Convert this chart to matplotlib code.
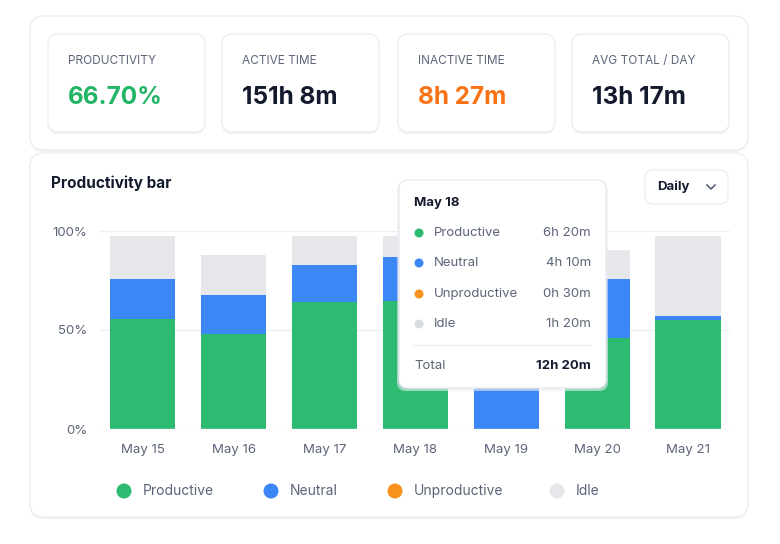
import matplotlib
matplotlib.use('Agg')
import matplotlib.pyplot as plt
from matplotlib.patches import FancyBboxPatch, Circle

plt.rcParams['font.family'] = ['Inter', 'DejaVu Sans']

# summary cards
card_labels = ['PRODUCTIVITY', 'ACTIVE TIME', 'INACTIVE TIME', 'AVG TOTAL / DAY']
card_values = ['66.70%', '151h 8m', '8h 27m', '13h 17m']
card_colors = ['#22b565', '#141a2e', '#f97316', '#141a2e']

# daily shares (% of day)
days = ['May 15', 'May 16', 'May 17', 'May 18', 'May 19', 'May 20', 'May 21']
productive = [55.5, 47.8, 64.1, 64.6, 0.0, 46.0, 55.0]
neutral = [20.1, 19.9, 18.6, 22.4, 62.0, 29.6, 2.2]
unproductive = [0.0, 0.0, 0.0, 0.0, 0.0, 0.0, 0.0]
idle = [21.9, 20.0, 14.8, 10.5, 28.0, 14.8, 40.3]

categories = ['Productive', 'Neutral', 'Unproductive', 'Idle']
colors = ['#2dbb72', '#3b87f5', '#f7931e', '#e5e7eb']

# tooltip for May 18
tip_day = 'May 18'
tip_values = ['6h 20m', '4h 10m', '0h 30m', '1h 20m']
tip_total = '12h 20m'

TEXT = '#151b2e'
MUTED = '#5b6478'

fig = plt.figure(figsize=(7.8, 5.44), dpi=100)
fig.patch.set_facecolor('white')

# background layer in pixel coordinates
bg = fig.add_axes([0, 0, 1, 1], zorder=0)
bg.set_xlim(0, 780)
bg.set_ylim(544, 0)
bg.axis('off')


def card(ax, x, y, w, h, r=10, shadow=True, ec='#eceef2', z=1):
    if shadow:
        ax.add_patch(FancyBboxPatch((x, y + 2), w, h, boxstyle=f'round,pad=0,rounding_size={r}',
                                    fc='#f0f1f5', ec='none', zorder=z))
    ax.add_patch(FancyBboxPatch((x, y), w, h, boxstyle=f'round,pad=0,rounding_size={r}',
                                fc='white', ec=ec, lw=1, zorder=z + 0.1))


# top container and cards
card(bg, 30, 16, 718, 134, r=14)
card_x = [48, 222, 398, 572]
for i, label in enumerate(card_labels):
    card(bg, card_x[i], 34, 157, 98, r=10, z=2)
    bg.text(card_x[i] + 20, 61, label, fontsize=8.5, color=MUTED, va='center', zorder=3)
    bg.text(card_x[i] + 20, 97, card_values[i], fontsize=17.5, fontweight='bold',
            color=card_colors[i], va='center', zorder=3)

# chart container
card(bg, 30, 153, 718, 364, r=14)
bg.text(51, 183, 'Productivity bar', fontsize=11, fontweight='bold', color=TEXT, va='center', zorder=3)
card(bg, 645, 170, 83, 34, r=8, shadow=False, z=2)
bg.text(657, 187, 'Daily', fontsize=9.5, fontweight='bold', color=TEXT, va='center', zorder=3)
bg.plot([707, 711, 715], [185, 189, 185], color=MUTED, lw=1.2, zorder=3)

# legend
leg_x = [124, 271, 395, 557]
for i, name in enumerate(categories):
    bg.add_patch(Circle((leg_x[i], 491), 7.5, fc=colors[i], ec='none', zorder=3))
    bg.text(leg_x[i] + 19, 491, name, fontsize=10, color=MUTED, va='center', zorder=3)

# chart axes
ax = fig.add_axes([100 / 780, (544 - 429) / 544, 630 / 780, 198 / 544], zorder=1)
ax.set_facecolor('none')
ax.set_xlim(-0.47, 6.46)
ax.set_ylim(0, 100)
x = range(len(days))
bottom = [0.0] * len(days)
for vals, col in zip([productive, neutral, unproductive, idle], colors):
    ax.bar(x, vals, width=0.72, bottom=bottom, color=col, zorder=2, clip_on=False)
    bottom = [b + v for b, v in zip(bottom, vals)]

for yv in [50, 100]:
    ax.axhline(yv, color='#eef0f4', lw=1, zorder=1)
ax.axhline(0, color='#e2e5ea', lw=1, zorder=3)
ax.set_yticks([0, 50, 100])
ax.set_yticklabels(['0%', '50%', '100%'])
ax.set_xticks(list(x))
ax.set_xticklabels(days)
ax.tick_params(length=0, labelsize=9.5, labelcolor=MUTED)
ax.tick_params(axis='x', pad=11)
ax.tick_params(axis='y', pad=9)
for s in ax.spines.values():
    s.set_visible(False)

# tooltip layer
fg = fig.add_axes([0, 0, 1, 1], zorder=2)
fg.set_xlim(0, 780)
fg.set_ylim(544, 0)
fg.set_facecolor('none')
fg.axis('off')
fg.add_patch(FancyBboxPatch((397, 182), 211, 209, boxstyle='round,pad=0,rounding_size=9',
                            fc='#e9ebf0', ec='none', alpha=0.6))
card(fg, 399, 180, 207, 208, r=9, shadow=False, ec='#e8eaef', z=2)
fg.text(414, 203, tip_day, fontsize=9.5, fontweight='bold', color=TEXT, va='center', zorder=3)
row_y = [233, 263, 294, 324]
for i, name in enumerate(categories):
    fg.add_patch(Circle((419, row_y[i]), 4.5, fc=colors[i] if i < 3 else '#d9dce3', ec='none', zorder=3))
    fg.text(434, row_y[i], name, fontsize=9.5, color=MUTED, va='center', zorder=3)
    fg.text(591, row_y[i], tip_values[i], fontsize=9.5, color=MUTED, va='center', ha='right', zorder=3)
fg.plot([414, 591], [345, 345], color='#eceef2', lw=1, zorder=3)
fg.text(414, 366, 'Total', fontsize=9.5, color=MUTED, va='center', zorder=3)
fg.text(591, 366, tip_total, fontsize=9.5, fontweight='bold', color=TEXT, va='center', ha='right', zorder=3)

fig.savefig('out.png', dpi=100, facecolor='white')
